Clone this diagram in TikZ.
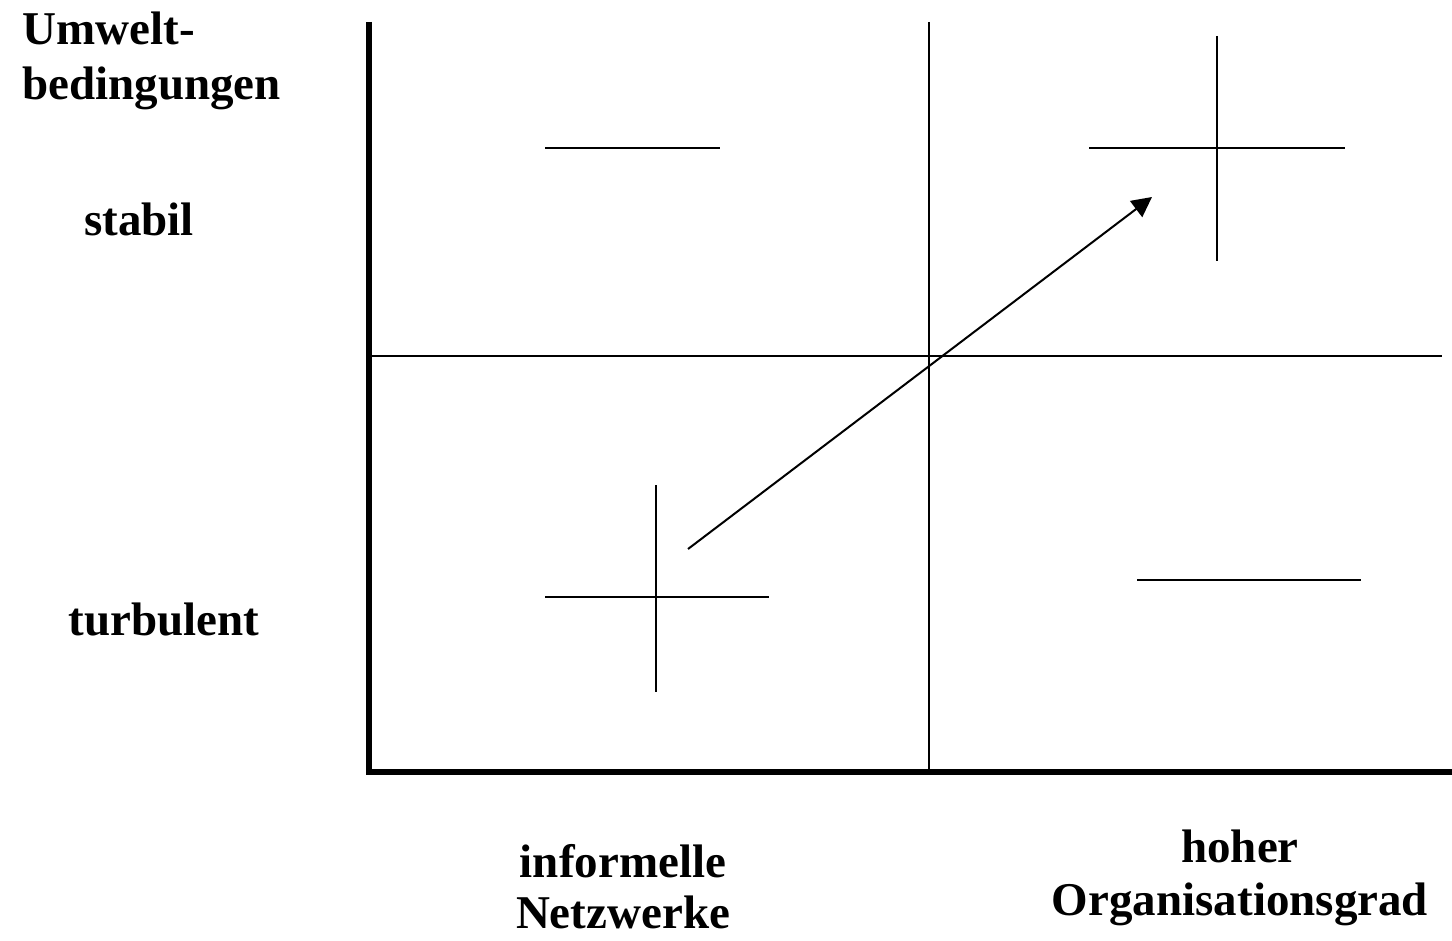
\documentclass[tikz,border=0pt]{standalone}
\usepackage{fontspec}
\setmainfont{Liberation Serif}
\usetikzlibrary{arrows.meta}
\begin{document}
\begin{tikzpicture}[x=0.5pt, y=-0.5pt]
  \tikzset{lbl/.style={font=\fontsize{23.5}{26}\selectfont\bfseries, inner sep=0pt, anchor=base}}
  \tikzset{axisline/.style={line width=2.6pt}}
  \tikzset{rule/.style={line width=1pt}}
  \useasboundingbox (0,0) rectangle (1452,941);
  % axes
  \draw[axisline] (369,22) -- (369,772) -- (1452,772);
  % quadrant borders
  \draw[rule] (929,22) -- (929,772);
  \draw[rule] (369,356) -- (1442,356);
  % signs in the quadrants
  \draw[rule] (545,148) -- (720,148);
  \draw[rule] (1089,148) -- (1345,148);
  \draw[rule] (1217,36) -- (1217,261);
  \draw[rule] (545,597) -- (769,597);
  \draw[rule] (656,485) -- (656,692);
  \draw[rule] (1137,580) -- (1361,580);
  % shift
  \coordinate (from) at (688,549);
  \coordinate (to) at (1152,197);
  \draw[rule, -{Triangle[length=10pt, width=10pt]}] (from) -- (to);
  % labels (multi-line nodes sit on their last baseline)
  \node[lbl, anchor=base west, align=left, font=\fontsize{23.5}{27.5}\selectfont\bfseries] (env) at (22,100) {Umwelt-\\bedingungen};
  \node[lbl] (stable) at (139,236) {stabil};
  \node[lbl] (turb) at (164,635) {turbulent};
  \node[lbl, align=center, font=\fontsize{23.5}{25.5}\selectfont\bfseries] (informal) at (623,928) {informelle\\Netzwerke};
  \node[lbl, align=center, font=\fontsize{23.5}{26.5}\selectfont\bfseries] (organised) at (1240,915) {hoher\\Organisationsgrad};
\end{tikzpicture}
\end{document}
